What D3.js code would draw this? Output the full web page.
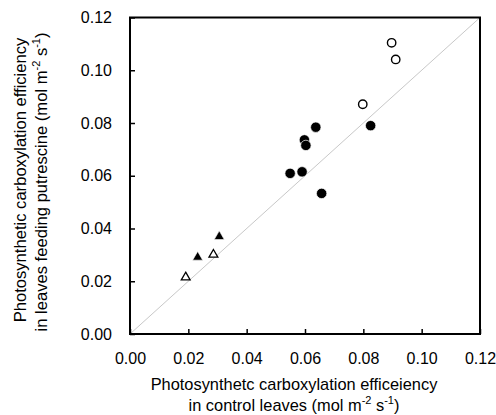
<!DOCTYPE html>
<html>
<head>
<meta charset="utf-8">
<script src="https://cdn.jsdelivr.net/npm/d3@7"></script>
<style>
  body { margin: 0; background: #fff; }
  svg text { font-family: "Liberation Sans", Arial, sans-serif; fill: #000; }
</style>
</head>
<body>
<svg id="chart" width="496" height="415"></svg>
<script>
// control vs putrescine-fed carboxylation efficiency
const openCircles = [[0.0897, 0.1104], [0.0911, 0.1041], [0.0798, 0.0871]];
const filledCircles = [
  [0.0598, 0.0736], [0.0603, 0.0715], [0.0637, 0.0784], [0.0825, 0.0790],
  [0.0549, 0.0609], [0.0590, 0.0615], [0.0657, 0.0533]
];
const filledTriangles = [[0.0306, 0.0369], [0.0232, 0.0291]];
const openTriangles = [[0.0286, 0.0301], [0.0191, 0.0215]];
const tickValues = [0, 0.02, 0.04, 0.06, 0.08, 0.10, 0.12];

const margin = { left: 130, top: 17.5, right: 16, bottom: 81 };
const svg = d3.select('#chart');
const W = 496, H = 415;
const x = d3.scaleLinear().domain([0, 0.12]).range([margin.left, W - margin.right]);
const y = d3.scaleLinear().domain([0, 0.12]).range([H - margin.bottom, margin.top]);

// 1:1 line
svg.append('line')
  .attr('x1', x(0)).attr('y1', y(0))
  .attr('x2', x(0.12)).attr('y2', y(0.12))
  .attr('stroke', '#c8c8c8').attr('stroke-width', 1);

const xAxis = svg.append('g')
  .attr('transform', `translate(0,${y(0)})`)
  .call(d3.axisBottom(x).tickValues(tickValues).tickSizeInner(-5).tickSizeOuter(0).tickPadding(19)
    .tickFormat(d3.format('.2f')));
const yAxis = svg.append('g')
  .attr('transform', `translate(${x(0)},0)`)
  .call(d3.axisLeft(y).tickValues(tickValues).tickSizeInner(-5).tickSizeOuter(0).tickPadding(18)
    .tickFormat(d3.format('.2f')));
[xAxis, yAxis].forEach(a => {
  a.select('.domain').remove();
  a.selectAll('.tick line').attr('stroke', '#000').attr('stroke-width', 1.5);
  a.selectAll('.tick text').attr('font-size', 16).attr('font-family', '"Liberation Sans", Arial, sans-serif');
});

// frame
svg.append('rect')
  .attr('x', x(0)).attr('y', y(0.12))
  .attr('width', x(0.12) - x(0)).attr('height', y(0) - y(0.12))
  .attr('fill', 'none').attr('stroke', '#000').attr('stroke-width', 2);

svg.append('g').selectAll('path').data(openTriangles).join('path')
  .attr('d', d3.symbol().type(d3.symbolTriangle).size(34))
  .attr('transform', d => `translate(${x(d[0])},${y(d[1])})`)
  .attr('fill', '#fff').attr('stroke', '#000').attr('stroke-width', 1.3);
svg.append('g').selectAll('path').data(filledTriangles).join('path')
  .attr('d', d3.symbol().type(d3.symbolTriangle).size(44))
  .attr('transform', d => `translate(${x(d[0])},${y(d[1])})`)
  .attr('fill', '#000').attr('stroke', '#fff').attr('stroke-width', 0.6);
svg.append('g').selectAll('circle').data(openCircles).join('circle')
  .attr('cx', d => x(d[0])).attr('cy', d => y(d[1])).attr('r', 4.2)
  .attr('fill', '#fff').attr('stroke', '#000').attr('stroke-width', 1.4);
svg.append('g').selectAll('circle').data(filledCircles).join('circle')
  .attr('cx', d => x(d[0])).attr('cy', d => y(d[1])).attr('r', 5.2)
  .attr('fill', '#000').attr('stroke', '#fff').attr('stroke-width', 0.7);

// axis titles
const xt = svg.append('text').attr('text-anchor', 'middle').attr('font-size', 16.4);
xt.append('tspan').attr('x', 294).attr('y', 390).text('Photosynthetc carboxylation efficeiency');
const xl2 = xt.append('tspan').attr('x', 294).attr('y', 411);
xl2.append('tspan').text('in control leaves (mol m');
xl2.append('tspan').attr('dy', -7).attr('font-size', 11).text('-2');
xl2.append('tspan').attr('dy', 7).text(' s');
xl2.append('tspan').attr('dy', -7).attr('font-size', 11).text('-1');
xl2.append('tspan').attr('dy', 7).text(')');

const cy = 180;
const yt = svg.append('text').attr('text-anchor', 'middle').attr('font-size', 16.6)
  .attr('transform', `translate(0,${cy}) rotate(-90)`);
yt.append('tspan').attr('x', 0).attr('y', 26).text('Photosynthetic carboxylation efficiency');
const yl2 = yt.append('tspan').attr('x', -2).attr('y', 47);
yl2.append('tspan').text('in leaves feeding putrescine (mol m');
yl2.append('tspan').attr('dy', -7).attr('font-size', 11).text('-2');
yl2.append('tspan').attr('dy', 7).text(' s');
yl2.append('tspan').attr('dy', -7).attr('font-size', 11).text('-1');
yl2.append('tspan').attr('dy', 7).text(')');
</script>
</body>
</html>
